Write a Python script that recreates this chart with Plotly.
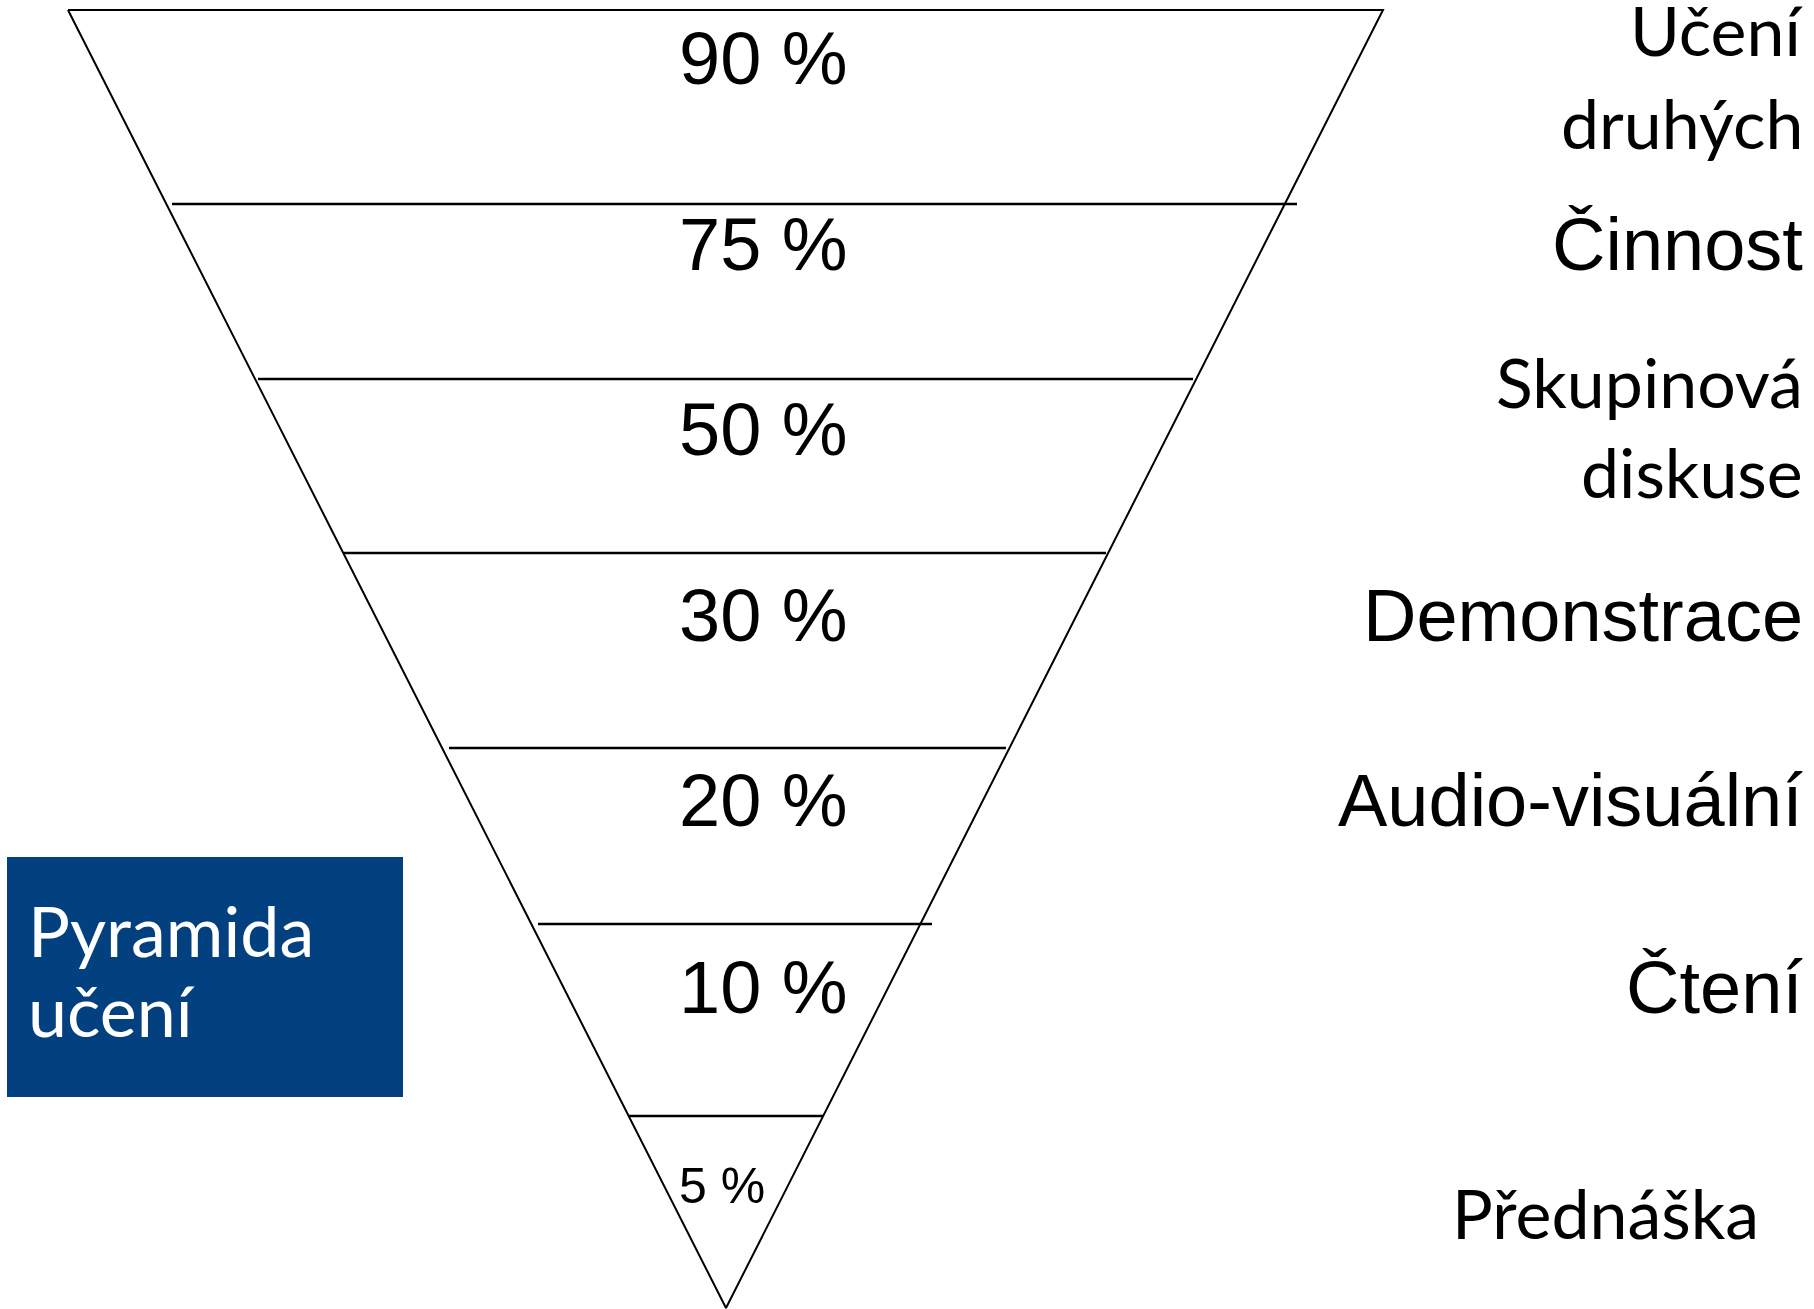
import plotly.graph_objects as go

# ---- data ----
percent_labels = ["90 %", "75 %", "50 %", "30 %", "20 %", "10 %", "5 %"]
activities = [["Učení", "druhých"], ["Činnost"], ["Skupinová", "diskuse"],
              ["Demonstrace"], ["Audio-visuální"], ["Čtení"], ["Přednáška"]]
title_lines = ["Pyramida", "učení"]

# ---- geometry (pixel space of the slide) ----
W, H = 1814, 1309
tri_x = [68, 1383, 726, 68]
tri_y = [10, 10, 1308, 10]
sep_y = [204, 379, 553, 748, 924, 1116]
sep_x0 = [172, 258, 344, 449, 538, 628]
sep_x1 = [1297, 1193, 1106, 1006, 932, 823]
pct_y = [58, 244, 429, 615, 800, 987, 1186]
pct_x = [763, 763, 763, 763, 763, 763, 722]
pct_size = [74, 74, 74, 74, 74, 74, 50]

ARIAL = "Liberation Sans, Arial, sans-serif"
CALIBRI = "Lato, Noto Sans, sans-serif"
# label styles: (font, size, x_right, baselines or None for centred)
act_style = [
    (CALIBRI, 68, 1805, [56, 149]),
    (ARIAL, 74, 1805, None),
    (CALIBRI, 68, 1805, [408, 498]),
    (ARIAL, 74, 1805, None),
    (ARIAL, 74, 1805, None),
    (ARIAL, 74, 1805, None),
    (CALIBRI, 68, 1761, [1239]),
]

fig = go.Figure()

fig.add_trace(go.Scatter(x=tri_x, y=tri_y, mode="lines",
                         line=dict(color="black", width=2), hoverinfo="skip"))
for x0, x1, y in zip(sep_x0, sep_x1, sep_y):
    fig.add_trace(go.Scatter(x=[x0, x1], y=[y, y], mode="lines",
                             line=dict(color="black", width=2.5), hoverinfo="skip"))

# blue title box
fig.add_shape(type="rect", x0=7, x1=403, y0=857, y1=1097,
              fillcolor="#02407F", line=dict(width=0), layer="below")

ann = []
for t, x, y, s in zip(percent_labels, pct_x, pct_y, pct_size):
    ann.append(dict(x=x, y=y, text=t, showarrow=False, xanchor="center", yanchor="middle",
                    font=dict(family=ARIAL, size=s, color="black")))

LATO_BASE = 0.39  # baseline offset below box middle (in em)
for lines, (fam, s, xr, bases), yc in zip(activities, act_style, pct_y):
    if bases is None:
        ann.append(dict(x=xr, y=yc, text=lines[0], showarrow=False, xanchor="right",
                        yanchor="middle", font=dict(family=fam, size=s, color="black")))
    else:
        for ln, b in zip(lines, bases):
            ann.append(dict(x=xr, y=b - LATO_BASE * s, text=ln, showarrow=False,
                            xanchor="right", yanchor="middle",
                            font=dict(family=fam, size=s, color="black")))

for ln, b in zip(title_lines, [957, 1037]):
    ann.append(dict(x=26, y=b - LATO_BASE * 70, text=ln, showarrow=False, xanchor="left",
                    yanchor="middle", font=dict(family=CALIBRI, size=70, color="white")))

fig.update_layout(
    width=W, height=H, margin=dict(l=0, r=0, t=0, b=0),
    paper_bgcolor="white", plot_bgcolor="white", showlegend=False,
    xaxis=dict(range=[0, W], visible=False, fixedrange=True),
    yaxis=dict(range=[H, 0], visible=False, fixedrange=True),
    annotations=ann,
)

fig.write_html("out.html", config={"displayModeBar": False},
               post_script="document.body.style.margin='0';document.body.style.overflow='hidden';")
